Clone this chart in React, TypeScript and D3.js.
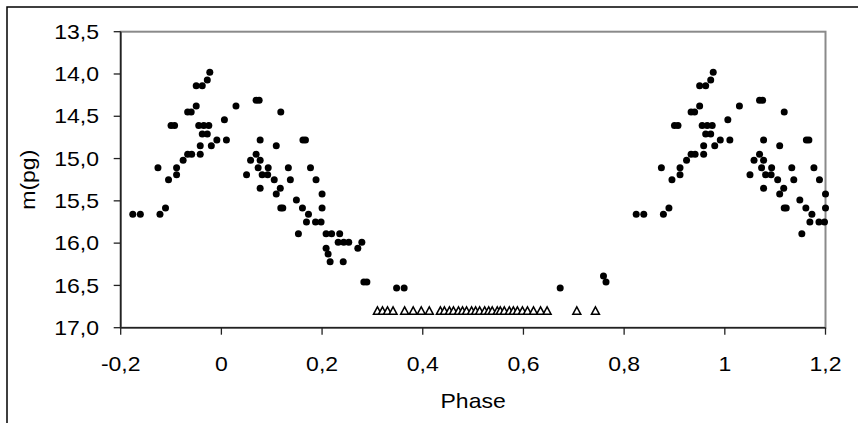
import React from "react";
import * as d3 from "d3";

// Phase-folded light curve (base phases in [0,1)), magnitudes m(pg)
const phase: number[] = [
  0.006, 0.010, 0.029, 0.069, 0.075, 0.077, 0.109, 0.118, 0.162, 0.167,
  0.069, 0.058, 0.077, 0.073, 0.093, 0.133, 0.177, 0.050, 0.081, 0.092,
  0.105, 0.137, 0.188, 0.077, 0.117, 0.109, 0.200, 0.149, 0.118, 0.122,
  0.161, 0.200, 0.173, 0.169, 0.187, 0.198, 0.153, 0.208, 0.219, 0.235,
  0.232, 0.243, 0.253, 0.279, 0.208, 0.271, 0.212, 0.216, 0.242, 0.283,
  0.289, 0.348, 0.363, 0.673, 0.759, 0.764,
  0.824, 0.839, 0.878, 0.889, 0.874, 0.895, 0.911, 0.911, 0.924, 0.933,
  0.941, 0.958, 0.958, 0.980, 0.991, 0.962, 0.972, 0.900, 0.907, 0.955,
  0.965, 0.975, 0.933, 0.940, 0.950, 0.950, 0.962, 0.972, 0.977,
];
const mag: number[] = [
  14.54, 14.78, 14.38, 14.31, 14.31, 14.78, 14.85, 14.45, 14.78, 14.78,
  14.95, 15.02, 15.02, 15.11, 15.11, 15.11, 15.11, 15.19, 15.19, 15.19,
  15.25, 15.25, 15.25, 15.35, 15.35, 15.42, 15.42, 15.49, 15.585, 15.585,
  15.585, 15.585, 15.66, 15.75, 15.75, 15.75, 15.89, 15.89, 15.89, 15.89,
  15.99, 15.99, 15.99, 15.99, 16.06, 16.06, 16.13, 16.22, 16.22, 16.46,
  16.46, 16.53, 16.53, 16.53, 16.39, 16.46,
  15.66, 15.66, 15.66, 15.585, 15.11, 15.25, 15.11, 15.19, 15.02, 14.95,
  14.95, 14.95, 14.85, 14.85, 14.78, 14.71, 14.71, 14.61, 14.61, 14.61,
  14.61, 14.61, 14.45, 14.45, 14.38, 14.14, 14.14, 14.07, 13.98,
];

// Upper limits (open triangles)
const triPhase: number[] = [
  0.310, 0.320, 0.330, 0.341, 0.364, 0.381, 0.397, 0.413,
  0.435, 0.443, 0.453, 0.461, 0.471, 0.479, 0.487, 0.497, 0.505, 0.513,
  0.523, 0.531, 0.538, 0.548, 0.554, 0.562, 0.572, 0.580, 0.588, 0.598,
  0.608, 0.620, 0.634, 0.647, 0.706, 0.743,
];
const triMag: number[] = triPhase.map(() => 16.8);

const xTicks: number[] = [-0.2, 0, 0.2, 0.4, 0.6, 0.8, 1, 1.2];
const xTickLabels: string[] = ["-0,2", "0", "0,2", "0,4", "0,6", "0,8", "1", "1,2"];
const yTicks: number[] = [13.5, 14, 14.5, 15, 15.5, 16, 16.5, 17];
const yTickLabels: string[] = ["13,5", "14,0", "14,5", "15,0", "15,5", "16,0", "16,5", "17,0"];

const W = 858;
const H = 423;
const left = 120.7;
const right = 825.5;
const top = 31.7;
const bottom = 327.7;
const FONT = "'Liberation Sans', Arial, sans-serif";
const FS = 20;
const SX = 1.15;

export default function App() {
  const x = d3.scaleLinear().domain([-0.2, 1.2]).range([left, right]);
  const y = d3.scaleLinear().domain([13.5, 17]).range([top, bottom]);

  const pts: { p: number; m: number }[] = [];
  phase.forEach((p, i) => {
    [p - 1, p, p + 1].forEach((q) => {
      if (q >= -0.2 - 1e-9 && q <= 1.2 + 1e-9) pts.push({ p: q, m: mag[i] });
    });
  });

  const tri = (cx: number, cy: number) =>
    `M${cx},${cy - 4} L${cx + 4},${cy + 3.5} L${cx - 4},${cy + 3.5} Z`;

  return (
    <svg
      width={W}
      height={H}
      style={{ position: "absolute", left: 0, top: 0, background: "#fff" }}
      fontFamily={FONT}
    >
      <rect x={0} y={0} width={W} height={H} fill="#fff" />
      {/* chart area frame (cropped) */}
      <rect x={7} y={7} width={W + 20} height={H + 20} fill="none" stroke="#000" strokeWidth={1.5} />

      {/* plot area border */}
      <rect x={left} y={top} width={right - left} height={bottom - top} fill="none" stroke="#8a8a8a" strokeWidth={2} />

      {/* axes */}
      <line x1={left} x2={left} y1={top} y2={bottom} stroke="#222" strokeWidth={1.6} />
      <line x1={left} x2={right} y1={bottom} y2={bottom} stroke="#222" strokeWidth={1.6} />

      {yTicks.map((t, i) => (
        <g key={"y" + i}>
          <line x1={left - 7} x2={left} y1={y(t)} y2={y(t)} stroke="#222" strokeWidth={1.3} />
          <text
            transform={`translate(${99},${y(t) + 7.2}) scale(${SX},1)`}
            textAnchor="end"
            fontSize={FS}
            fill="#000"
          >
            {yTickLabels[i]}
          </text>
        </g>
      ))}

      {xTicks.map((t, i) => (
        <g key={"x" + i}>
          <line x1={x(t)} x2={x(t)} y1={bottom} y2={bottom + 7} stroke="#222" strokeWidth={1.3} />
          <text
            transform={`translate(${x(t)},${370.7}) scale(${SX},1)`}
            textAnchor="middle"
            fontSize={FS}
            fill="#000"
          >
            {xTickLabels[i]}
          </text>
        </g>
      ))}

      <text
        transform={`translate(${(left + right) / 2},${408}) scale(${SX},1)`}
        textAnchor="middle"
        fontSize={FS}
        fill="#000"
      >
        Phase
      </text>
      <text
        transform={`translate(${35},${(top + bottom) / 2}) rotate(-90) scale(${SX},1)`}
        textAnchor="middle"
        fontSize={FS}
        fill="#000"
      >
        m(pg)
      </text>

      {pts.map((d, i) => (
        <circle key={"c" + i} cx={x(d.p)} cy={y(d.m)} r={3.5} fill="#000" />
      ))}
      {triPhase.map((p, i) => (
        <path key={"t" + i} d={tri(x(p), y(triMag[i]))} fill="#fff" stroke="#000" strokeWidth={1.5} />
      ))}
    </svg>
  );
}
